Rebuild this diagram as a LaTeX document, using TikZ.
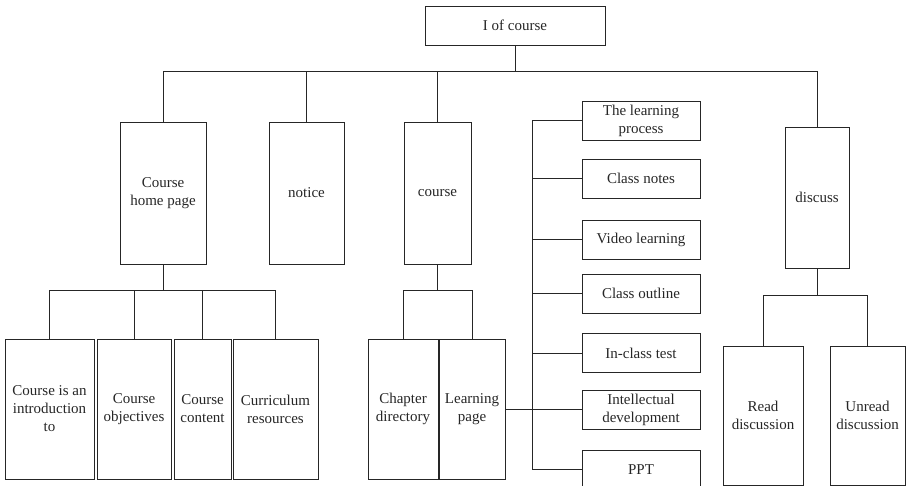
\documentclass[tikz,border=0pt]{standalone}
\usepackage{fontspec}
\setmainfont{Liberation Serif}
\begin{document}
\begin{tikzpicture}[x=1pt,y=-1pt,
  box/.style={draw=black!85, line width=0.8pt, inner sep=0pt, align=center,
    font=\fontsize{15}{18}\selectfont, text=black!85},
  link/.style={draw=black!85, line width=0.8pt}]
\useasboundingbox (0,0) rectangle (906,486);
\clip (0,0) rectangle (906,486);
% top level
\node[box, minimum width=180, minimum height=39] (top) at (515,25.5) {I of course};
% second level
\node[box, minimum width=86, minimum height=142] (chp) at (163,193) {Course\\home page};
\node[box, minimum width=75, minimum height=142] (notice) at (306.5,193) {notice};
\node[box, minimum width=67, minimum height=142] (course) at (437.5,193) {course};
\node[box, minimum width=64, minimum height=141] (discuss) at (817,197.5) {discuss};
% learning page children
\node[box, minimum width=118, minimum height=39] (lp1) at (641,120.5) {The learning\\process};
\node[box, minimum width=118, minimum height=39] (lp2) at (641,178.5) {Class notes};
\node[box, minimum width=118, minimum height=39] (lp3) at (641,239.5) {Video learning};
\node[box, minimum width=118, minimum height=39] (lp4) at (641,293.5) {Class outline};
\node[box, minimum width=118, minimum height=39] (lp5) at (641,353) {In-class test};
\node[box, minimum width=118, minimum height=39] (lp6) at (641,409.5) {Intellectual\\development};
\node[box, minimum width=118, minimum height=39] (lp7) at (641,469.5) {PPT};
% course home page children
\node[box, minimum width=89, minimum height=140] (c1) at (49.5,409) {Course is an\\introduction\\to};
\node[box, minimum width=74, minimum height=140] (c2) at (134,409) {Course\\objectives};
\node[box, minimum width=57, minimum height=140] (c3) at (202.5,409) {Course\\content};
\node[box, minimum width=85, minimum height=140] (c4) at (275.5,409) {Curriculum\\resources};
% course children
\node[box, minimum width=70, minimum height=140] (chap) at (403,409) {Chapter\\directory};
\node[box, minimum width=66, minimum height=140] (lpage) at (472,409) {Learning\\page};
% discuss children
\node[box, minimum width=80, minimum height=139] (read) at (763,415.5) {Read\\discussion};
\node[box, minimum width=75, minimum height=139] (unread) at (867.5,415.5) {Unread\\discussion};
% buses
\coordinate (b1) at (514,71);
\coordinate (b2) at (0,290);
\coordinate (b3) at (0,295);
\coordinate (v) at (532,0);
% top level connectors
\draw[link] (top.south) -- (top.south|-b1);
\draw[link] (chp.north) -- (chp.north|-b1) -- (discuss.north|-b1) -- (discuss.north);
\draw[link] (notice.north) -- (notice.north|-b1);
\draw[link] (course.north) -- (course.north|-b1);
% course home page
\draw[link] (chp.south) -- (chp.south|-b2);
\draw[link] (c1.north) -- (c1.north|-b2) -- (c4.north|-b2) -- (c4.north);
\draw[link] (c2.north) -- (c2.north|-b2);
\draw[link] (c3.north) -- (c3.north|-b2);
% course
\draw[link] (course.south) -- (course.south|-b2);
\draw[link] (chap.north) -- (chap.north|-b2) -- (lpage.north|-b2) -- (lpage.north);
% discuss
\draw[link] (discuss.south) -- (discuss.south|-b3);
\draw[link] (read.north) -- (read.north|-b3) -- (unread.north|-b3) -- (unread.north);
% learning page
\draw[link] (lpage.east) -- (lpage.east-|v);
\draw[link] (lp1.west) -- (lp1.west-|v) -- (lp7.west-|v) -- (lp7.west);
\draw[link] (lp2.west) -- (lp2.west-|v);
\draw[link] (lp3.west) -- (lp3.west-|v);
\draw[link] (lp4.west) -- (lp4.west-|v);
\draw[link] (lp5.west) -- (lp5.west-|v);
\draw[link] (lp6.west) -- (lp6.west-|v);
\end{tikzpicture}
\end{document}
